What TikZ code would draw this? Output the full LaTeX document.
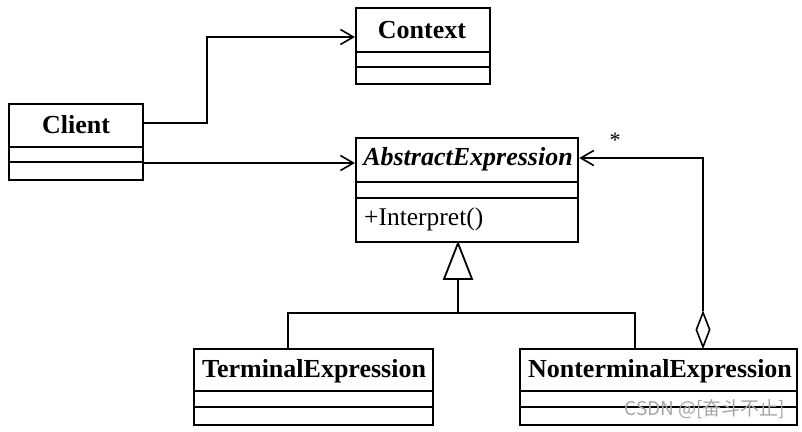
\documentclass[tikz,border=0pt]{standalone}
\usepackage{fontspec}
\setmainfont{Liberation Serif}
\newfontfamily\cjkfont{Noto Sans CJK SC}
\usetikzlibrary{arrows.meta,shapes.geometric,calc}
\begin{document}
\begin{tikzpicture}[x=1pt,y=-1pt,
  classbox/.style={draw,line width=2.2pt,inner sep=0pt,anchor=north west},
  divider/.style={line width=2.2pt},
  titletext/.style={font=\fontsize{26}{30}\selectfont\bfseries,inner sep=0pt},
  membertext/.style={font=\fontsize{25.5}{30}\selectfont,inner sep=0pt,anchor=west},
  conn/.style={line width=1.6pt},
  assoc/.style={conn,-{Straight Barb[length=13pt,width=15pt,line width=1.6pt]}},
  aggdia/.style={draw,diamond,line width=1.6pt,inner sep=0pt,minimum width=14pt,minimum height=35pt,anchor=south},
  generaltri/.style={draw,line width=1.8pt,fill=white},
  stem/.style={line width=2.5pt},
  starlabel/.style={font=\fontsize{22}{24}\selectfont,inner sep=0pt},
  wm/.style={font=\cjkfont\fontsize{19}{21}\selectfont,text=black!35,inner sep=0pt}
]
\useasboundingbox (0,0) rectangle (802,431);

% Context
\node[classbox,minimum width=134pt,minimum height=76pt] (ctx) at (355,7) {};
\node[titletext] (ctxt) at (422,30) {Context};
\draw[divider] (ctx.west |- 0,52) -- (ctx.east |- 0,52);
\draw[divider] (ctx.west |- 0,67) -- (ctx.east |- 0,67);

% Client
\node[classbox,minimum width=134pt,minimum height=76pt] (cl) at (8,103) {};
\node[titletext] (clt) at (76,125) {Client};
\draw[divider] (cl.west |- 0,147) -- (cl.east |- 0,147);
\draw[divider] (cl.west |- 0,162) -- (cl.east |- 0,162);

% AbstractExpression
\node[classbox,minimum width=222pt,minimum height=104pt] (ae) at (355,137) {};
\node[titletext,font=\fontsize{26}{30}\selectfont\bfseries\itshape] (aet) at (468,159) {AbstractExpression};
\draw[divider] (ae.west |- 0,182) -- (ae.east |- 0,182);
\draw[divider] (ae.west |- 0,198) -- (ae.east |- 0,198);
\node[membertext] (aem) at (364,219) {+Interpret()};

% TerminalExpression
\node[classbox,minimum width=239pt,minimum height=76pt] (te) at (193,348) {};
\node[titletext] (tet) at (314,371) {TerminalExpression};
\draw[divider] (te.west |- 0,391) -- (te.east |- 0,391);
\draw[divider] (te.west |- 0,407) -- (te.east |- 0,407);

% NonterminalExpression
\node[classbox,minimum width=277pt,minimum height=76pt] (nt) at (519,348) {};
\node[titletext] (ntt) at (660,371) {NonterminalExpression};
\draw[divider] (nt.west |- 0,391) -- (nt.east |- 0,391);
\draw[divider] (nt.west |- 0,407) -- (nt.east |- 0,407);

% Client -> Context
\draw[assoc] (cl.east |- 0,123) -| (207,37) -- (ctx.west |- 0,37);
% Client -> AbstractExpression
\draw[assoc] (cl.east |- 0,163) -- (ae.west |- 0,163);

% Aggregation NonterminalExpression -> AbstractExpression
\node[aggdia] (dia) at (nt.north -| 703,0) {};
\draw[assoc] (dia.north) |- (ae.east |- 0,158);
\node[starlabel] (star) at (615,140) {*};

% Generalization
\coordinate (apex) at (ae.south -| 458,0);
\draw[stem] (458,279) -- (458,313);
\draw[conn] (te.north -| 288,0) -- (288,313) -- (635,313) -- (nt.north -| 635,0);
\draw[generaltri] (apex) -- (472,279) -- (444,279) -- cycle;

% watermark
\node[wm] (wmark) at (705,409) {CSDN @[奋斗不止]};
\end{tikzpicture}
\end{document}
